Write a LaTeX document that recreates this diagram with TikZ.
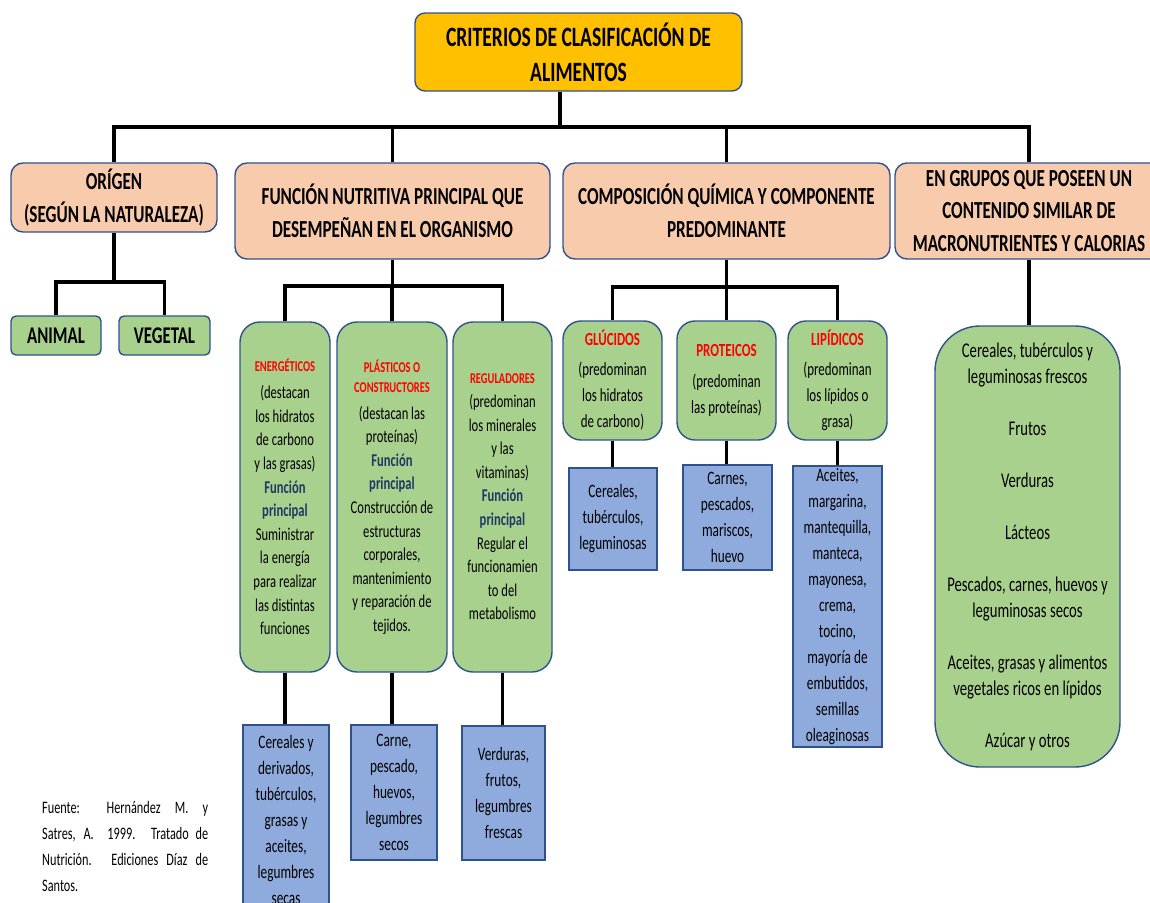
\documentclass[tikz,border=0pt]{standalone}
\usepackage{fontspec}
\setmainfont{Carlito}[FakeStretch=0.7]
\definecolor{gold}{HTML}{FFC000}
\definecolor{peach}{HTML}{F8CBAD}
\definecolor{grn}{HTML}{A9D18E}
\definecolor{blu}{HTML}{8FAADC}
\definecolor{bordc}{HTML}{2F528F}
\definecolor{redlbl}{HTML}{FF0000}
\definecolor{navy}{HTML}{1F3864}
\newcommand{\redlbl}[1]{{\color{redlbl}\bfseries #1}}
\newcommand{\fnp}[1]{{\color{navy}\bfseries #1}}
\begin{document}
\begin{tikzpicture}[x=1pt,y=-1pt,
  conn/.style={line width=3.5pt, black},
  boxbase/.style={draw=bordc, line width=1.4pt, inner sep=0pt, align=center, text=black},
  titlebox/.style={boxbase, fill=gold, rounded corners=10pt, font=\fontsize{28}{35}\selectfont\bfseries},
  catbox/.style={boxbase, fill=peach, rounded corners=12pt, font=\fontsize{24.5}{32.5}\selectfont\bfseries},
  smallgreen/.style={boxbase, fill=grn, rounded corners=5pt, font=\fontsize{24}{28}\selectfont\bfseries},
  tallgreen/.style={boxbase, fill=grn, rounded corners=20pt, font=\fontsize{18}{23.6}\selectfont},
  midgreen/.style={boxbase, fill=grn, rounded corners=18pt, font=\fontsize{18.5}{26}\selectfont},
  biggreen/.style={boxbase, fill=grn, rounded corners=45pt, font=\fontsize{21}{26}\selectfont},
  bluebox/.style={boxbase, fill=blu, font=\fontsize{19}{26}\selectfont},
  srctext/.style={inner sep=0pt, text width=166pt, align=justify, font=\fontsize{17.5}{26}\selectfont}
]
\fill[white] (0,0) rectangle (1150,902);
\useasboundingbox (0,0) rectangle (1150,902);

% title
\node[titlebox, minimum width=327pt, minimum height=78pt] (title) at (578.5,52)
  {CRITERIOS DE CLASIFICACIÓN DE\\ALIMENTOS};

% categories
\node[catbox, minimum width=206pt, minimum height=69pt] (c1) at (114,197.5)
  {ORÍGEN\\(SEGÚN LA NATURALEZA)};
\node[catbox, minimum width=315pt, minimum height=96pt] (c2) at (392.5,211)
  {FUNCIÓN NUTRITIVA PRINCIPAL QUE\\DESEMPEÑAN EN EL ORGANISMO};
\node[catbox, minimum width=327pt, minimum height=96pt] (c3) at (726.5,211)
  {COMPOSICIÓN QUÍMICA Y COMPONENTE\\PREDOMINANTE};
\node[catbox, minimum width=268pt, minimum height=96pt] (c4) at (1029,211)
  {EN GRUPOS QUE POSEEN UN\\CONTENIDO SIMILAR DE\\MACRONUTRIENTES Y CALORIAS};

\coordinate (b0) at (560,127);
\draw[conn] (title.south -| b0) -- (b0);
\draw[conn] (c1.north) -- (c1.north |- b0) -- (c4.north |- b0) -- (c4.north);
\draw[conn] (c2.north) -- (c2.north |- b0);
\draw[conn] (c3.north) -- (c3.north |- b0);

% origen children
\node[smallgreen, minimum width=90pt, minimum height=39pt] (an) at (56,335.5) {ANIMAL};
\node[smallgreen, minimum width=91pt, minimum height=39pt] (ve) at (164.5,335.5) {VEGETAL};
\coordinate (b1) at (114,282);
\draw[conn] (c1.south) -- (b1);
\draw[conn] (an.north) -- (an.north |- b1) -- (ve.north |- b1) -- (ve.north);

% funcion children
\node[tallgreen, minimum width=90pt, minimum height=350pt] (g1) at (285,497)
  {{\fontsize{15}{18}\selectfont\redlbl{ENERGÉTICOS}}\\[3.4pt]
   (destacan\\los hidratos\\de carbono\\y las grasas)\\\fnp{Función}\\\fnp{principal}\\
   Suministrar\\la energía\\para realizar\\las distintas\\funciones};
\node[tallgreen, minimum width=110pt, minimum height=350pt] (g2) at (392,497)
  {{\fontsize{15}{18}\selectfont\redlbl{PLÁSTICOS O}}\\[-3.6pt]
   {\fontsize{15}{18}\selectfont\redlbl{CONSTRUCTORES}}\\[3.4pt]
   (destacan las\\proteínas)\\\fnp{Función}\\\fnp{principal}\\
   Construcción de\\estructuras\\corporales,\\mantenimiento\\y reparación de\\tejidos.};
\node[tallgreen, minimum width=99pt, minimum height=350pt] (g3) at (502.5,497)
  {{\fontsize{15}{18}\selectfont\redlbl{REGULADORES}}\\
   (predominan\\los minerales\\y las\\vitaminas)\\\fnp{Función}\\\fnp{principal}\\
   Regular el\\funcionamien\\to del\\metabolismo};
\coordinate (b2) at (392,286);
\draw[conn] (c2.south) -- (c2.south |- b2);
\draw[conn] (g1.north) -- (g1.north |- b2) -- (g3.north |- b2) -- (g3.north);
\draw[conn] (g2.north) -- (g2.north |- b2);

\node[bluebox, minimum width=86pt, minimum height=190pt] (d1) at (286,820)
  {Cereales y\\derivados,\\tubérculos,\\grasas y\\aceites,\\legumbres\\secas};
\node[bluebox, minimum width=86pt, minimum height=135pt] (d2) at (394,792.5)
  {Carne,\\pescado,\\huevos,\\legumbres\\secos};
\node[bluebox, minimum width=83pt, minimum height=134pt] (d3) at (503.5,793)
  {Verduras,\\frutos,\\legumbres\\frescas};
\draw[conn] (g1.south) -- (g1.south |- d1.north);
\draw[conn] (g2.south) -- (g2.south |- d2.north);
\draw[conn] (g3.south) -- (g3.south |- d3.north);

% composicion children
\node[midgreen, minimum width=99pt, minimum height=119pt] (h1) at (612.5,380.5)
  {\redlbl{GLÚCIDOS}\\[4pt](predominan\\los hidratos\\de carbono)};
\node[midgreen, minimum width=99pt, minimum height=119pt] (h2) at (726.5,380.5)
  {\redlbl{PROTEICOS}\\[5pt](predominan\\las proteínas)};
\node[midgreen, minimum width=99pt, minimum height=119pt] (h3) at (837.5,380.5)
  {\redlbl{LIPÍDICOS}\\[4pt](predominan\\los lípidos o\\grasa)};
\coordinate (b3) at (726.5,287);
\draw[conn] (c3.south) -- (b3);
\draw[conn] (h1.north) -- (h1.north |- b3) -- (h3.north |- b3) -- (h3.north);
\draw[conn] (h2.north) -- (h2.north |- b3);

\node[bluebox, minimum width=88pt, minimum height=102pt] (e1) at (613,519)
  {Cereales,\\tubérculos,\\leguminosas};
\node[bluebox, minimum width=89pt, minimum height=105pt] (e2) at (727.5,517.5)
  {Carnes,\\pescados,\\mariscos,\\huevo};
\node[bluebox, minimum width=89pt, minimum height=281pt] (e3) at (837.5,606.5)
  {Aceites,\\margarina,\\mantequilla,\\manteca,\\mayonesa,\\crema,\\tocino,\\mayoría de\\embutidos,\\semillas\\oleaginosas};
\draw[conn] (h1.south) -- (h1.south |- e1.north);
\draw[conn] (h2.south) -- (h2.south |- e2.north);
\draw[conn] (h3.south) -- (h3.south |- e3.north);

% grupos child
\node[biggreen, minimum width=185pt, minimum height=441pt] (r1) at (1027.5,546.5)
  {Cereales, tubérculos y\\leguminosas frescos\\[26pt]Frutos\\[26pt]Verduras\\[26pt]Lácteos\\[26pt]
   Pescados, carnes, huevos y\\leguminosas secos\\[26pt]Aceites, grasas y alimentos\\vegetales ricos en lípidos\\[26pt]Azúcar y otros};
\draw[conn] (c4.south) -- (c4.south |- r1.north);

% source
\node[srctext, anchor=west] (src) at (42,846)
  {Fuente: Hernández M. y\linebreak Satres, A.\ \ 1999. Tratado de\linebreak Nutrición. Ediciones Díaz de\linebreak Santos.};
\end{tikzpicture}
\end{document}
